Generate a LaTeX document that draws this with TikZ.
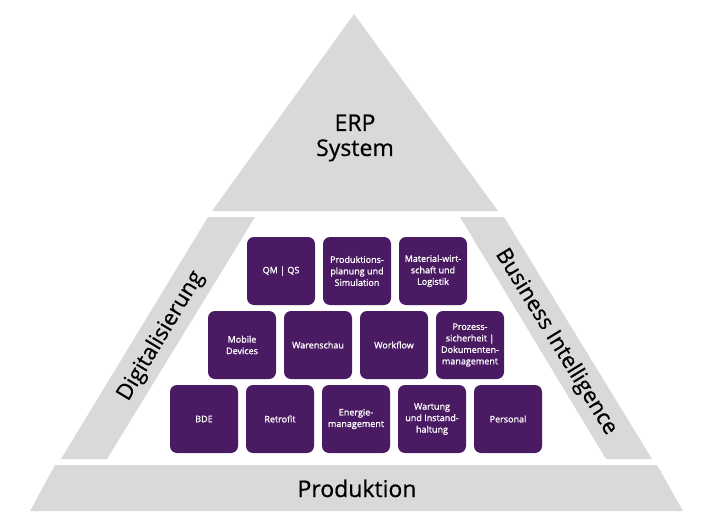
\documentclass[tikz,border=0pt]{standalone}
\usepackage{fontspec}
\setmainfont{Open Sans}
\newfontfamily\tilefont[FakeBold=1.3]{Open Sans}
\newfontfamily\bigfont[FakeBold=0.6]{Open Sans}
\definecolor{band}{HTML}{D9D9D9}
\definecolor{plum}{HTML}{4A1A62}
\tikzset{
  band/.style={fill=band, draw=none},
  tile/.style={fill=plum, draw=none, rounded corners=7pt, minimum width=68pt, minimum height=68pt,
    inner sep=1pt, text=white, align=center, font=\tilefont\fontsize{9}{11.5}\selectfont},
  big/.style={text=black, font=\bigfont\fontsize{23}{25}\selectfont, align=center, inner sep=0pt}
}
\begin{document}
\begin{tikzpicture}[x=1pt,y=-1pt]
\useasboundingbox (0,0) rectangle (713,530);
% top triangle
\fill[band] (354,14) -- (498,211) -- (212,211) -- cycle;
% left band
\fill[band] (208,217) -- (255,217) -- (107,459) -- (61,459) -- cycle;
% right band
\fill[band] (460,217) -- (504,217) -- (652,459) -- (606,459) -- cycle;
% bottom band
\fill[band] (55,465) -- (657,465) -- (683,511) -- (30,511) -- cycle;

\node[big] (erp) at (355,138) {ERP\\System};
\node[big, anchor=base] (prod) at (357,497) {Produktion};
\node[big, rotate=59, font=\bigfont\fontsize{22}{24}\selectfont] (digi) at (161,336) {Digitalisierung};
\node[big, rotate=-58.5, font=\bigfont\fontsize{22}{24}\selectfont] (bi) at (556,342) {Business Intelligence};

\node[tile] (qm) at (281,271) {QM | QS};
\node[tile] (pps) at (357,271) {Produktions-\\planung und\\Simulation};
\node[tile] (mat) at (433,271) {Material-wirt-\\schaft und\\Logistik};

\node[tile] (mob) at (242,345) {Mobile\\Devices};
\node[tile] (war) at (318,345) {Warenschau};
\node[tile] (wf) at (394,345) {Workflow};
\node[tile] (proz) at (470,345) {Prozess-\\sicherheit |\\Dokumenten-\\management};

\node[tile] (bde) at (204,419) {BDE};
\node[tile] (ret) at (280,419) {Retrofit};
\node[tile] (ene) at (356,419) {Energie-\\management};
\node[tile] (wart) at (432,419) {Wartung\\und Instand-\\haltung};
\node[tile] (pers) at (508,419) {Personal};
\end{tikzpicture}
\end{document}
